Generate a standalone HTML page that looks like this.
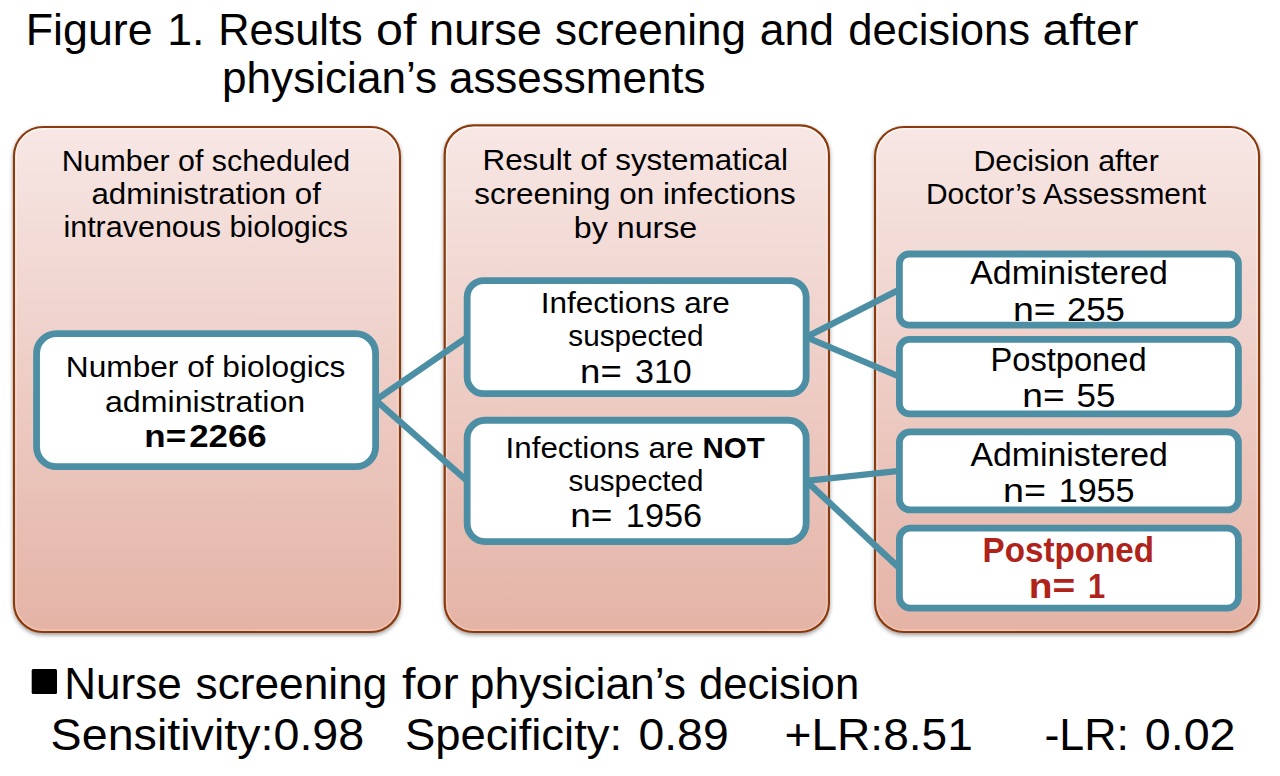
<!DOCTYPE html>
<html><head><meta charset="utf-8"><style>
html,body{margin:0;padding:0;background:#fff;width:1280px;height:776px;overflow:hidden}
svg{display:block;font-family:"Liberation Sans",sans-serif}
</style></head><body>
<svg width="1280" height="776" viewBox="0 0 1280 776">
<defs>
<linearGradient id="pg" x1="0" y1="0" x2="0" y2="1">
<stop offset="0" stop-color="#f7e7e5"/><stop offset="1" stop-color="#e4b3a6"/>
</linearGradient>
<linearGradient id="hl" x1="0" y1="0" x2="0" y2="1">
<stop offset="0" stop-color="#ffffff" stop-opacity="0.7"/><stop offset="1" stop-color="#f6c8bc" stop-opacity="0.9"/>
</linearGradient>
<filter id="sh" x="-5%" y="-5%" width="115%" height="115%">
<feGaussianBlur in="SourceAlpha" stdDeviation="2.3"/><feOffset dx="0" dy="2" result="o"/>
<feComponentTransfer><feFuncA type="linear" slope="0.4"/></feComponentTransfer>
<feMerge><feMergeNode/><feMergeNode in="SourceGraphic"/></feMerge>
</filter>
</defs>
<rect x="14.00" y="127.00" width="385.90" height="505.00" rx="29" ry="29" fill="url(#pg)" stroke="#8a3a0a" stroke-width="2.20" filter="url(#sh)"/><rect x="15.90" y="128.90" width="382.10" height="501.20" rx="27.1" ry="27.1" fill="none" stroke="url(#hl)" stroke-width="1.2"/><rect x="444.70" y="125.40" width="384.20" height="506.60" rx="29" ry="29" fill="url(#pg)" stroke="#8a3a0a" stroke-width="2.20" filter="url(#sh)"/><rect x="446.60" y="127.30" width="380.40" height="502.80" rx="27.1" ry="27.1" fill="none" stroke="url(#hl)" stroke-width="1.2"/><rect x="875.10" y="127.00" width="383.95" height="505.00" rx="29" ry="29" fill="url(#pg)" stroke="#8a3a0a" stroke-width="2.20" filter="url(#sh)"/><rect x="877.00" y="128.90" width="380.15" height="501.20" rx="27.1" ry="27.1" fill="none" stroke="url(#hl)" stroke-width="1.2"/>
<line x1="375.60" y1="400.17" x2="467.15" y2="337.12" stroke="#4c8fa5" stroke-width="6.4"/><line x1="375.60" y1="400.17" x2="467.15" y2="480.90" stroke="#4c8fa5" stroke-width="6.4"/><line x1="806.15" y1="337.12" x2="899.40" y2="289.55" stroke="#4c8fa5" stroke-width="6.4"/><line x1="806.15" y1="337.12" x2="899.40" y2="376.65" stroke="#4c8fa5" stroke-width="6.4"/><line x1="806.15" y1="480.90" x2="899.40" y2="470.90" stroke="#4c8fa5" stroke-width="6.4"/><line x1="806.15" y1="480.90" x2="899.40" y2="568.17" stroke="#4c8fa5" stroke-width="6.4"/>
<rect x="36.55" y="333.70" width="339.05" height="132.95" rx="19.90" ry="19.90" fill="#fff" stroke="#4c8fa5" stroke-width="6.80"/><rect x="467.15" y="280.55" width="339.00" height="113.15" rx="16.60" ry="16.60" fill="#fff" stroke="#4c8fa5" stroke-width="6.80"/><rect x="467.15" y="420.25" width="339.00" height="121.30" rx="17.95" ry="17.95" fill="#fff" stroke="#4c8fa5" stroke-width="6.80"/><rect x="899.40" y="254.00" width="339.00" height="71.10" rx="9.59" ry="9.59" fill="#fff" stroke="#4c8fa5" stroke-width="6.80"/><rect x="899.40" y="339.40" width="339.00" height="74.50" rx="10.15" ry="10.15" fill="#fff" stroke="#4c8fa5" stroke-width="6.80"/><rect x="899.40" y="431.85" width="339.00" height="78.10" rx="10.75" ry="10.75" fill="#fff" stroke="#4c8fa5" stroke-width="6.80"/><rect x="899.40" y="528.20" width="339.00" height="79.95" rx="11.06" ry="11.06" fill="#fff" stroke="#4c8fa5" stroke-width="6.80"/>
<rect x="31.7" y="669" width="25.3" height="25" rx="1.5" fill="#000"/>
<text transform="translate(25.77 44.80) scale(1.0067 1)" font-size="44.5" font-weight="normal" fill="#000" xml:space="preserve">Figure</text>
<text transform="translate(167.19 44.80) scale(1.0033 1)" font-size="44.5" font-weight="normal" fill="#000" xml:space="preserve">1.</text>
<text transform="translate(218.21 44.80) scale(0.9734 1)" font-size="44.5" font-weight="normal" fill="#000" xml:space="preserve">Results</text>
<text transform="translate(376.02 44.80) scale(1.0886 1)" font-size="44.5" font-weight="normal" fill="#000" xml:space="preserve">of</text>
<text transform="translate(429.06 44.80) scale(1.0142 1)" font-size="44.5" font-weight="normal" fill="#000" xml:space="preserve">nurse</text>
<text transform="translate(554.91 44.80) scale(0.9905 1)" font-size="44.5" font-weight="normal" fill="#000" xml:space="preserve">screening</text>
<text transform="translate(759.70 44.80) scale(1.0007 1)" font-size="44.5" font-weight="normal" fill="#000" xml:space="preserve">and</text>
<text transform="translate(848.34 44.80) scale(0.9805 1)" font-size="44.5" font-weight="normal" fill="#000" xml:space="preserve">decisions</text>
<text transform="translate(1042.54 44.80) scale(1.0782 1)" font-size="44.5" font-weight="normal" fill="#000" xml:space="preserve">after</text>
<text transform="translate(222.02 92.50) scale(0.9920 1)" font-size="44.5" font-weight="normal" fill="#000" xml:space="preserve">physician’s</text>
<text transform="translate(448.92 92.50) scale(0.9887 1)" font-size="44.5" font-weight="normal" fill="#000" xml:space="preserve">assessments</text>
<text transform="translate(61.68 170.90) scale(1.0364 1)" font-size="29.3" font-weight="normal" fill="#000" xml:space="preserve">Number of scheduled</text>
<text transform="translate(91.43 203.50) scale(1.0678 1)" font-size="29.3" font-weight="normal" fill="#000" xml:space="preserve">administration of</text>
<text transform="translate(63.42 236.50) scale(1.0406 1)" font-size="29.3" font-weight="normal" fill="#000" xml:space="preserve">intravenous biologics</text>
<text transform="translate(482.45 169.50) scale(1.0726 1)" font-size="29.3" font-weight="normal" fill="#000" xml:space="preserve">Result of systematical</text>
<text transform="translate(474.23 203.70) scale(1.0728 1)" font-size="29.3" font-weight="normal" fill="#000" xml:space="preserve">screening on infections</text>
<text transform="translate(573.80 238.30) scale(1.0991 1)" font-size="29.3" font-weight="normal" fill="#000" xml:space="preserve">by nurse</text>
<text transform="translate(973.43 170.90) scale(1.0353 1)" font-size="29.3" font-weight="normal" fill="#000" xml:space="preserve">Decision after</text>
<text transform="translate(925.96 203.50) scale(1.0221 1)" font-size="29.3" font-weight="normal" fill="#000" xml:space="preserve">Doctor’s Assessment</text>
<text transform="translate(65.84 376.80) scale(1.0801 1)" font-size="29.3" font-weight="normal" fill="#000" xml:space="preserve">Number of biologics</text>
<text transform="translate(104.90 411.50) scale(1.0986 1)" font-size="29.3" font-weight="normal" fill="#000" xml:space="preserve">administration</text>
<text transform="translate(144.33 447.00) scale(1.1353 1)" font-size="30.765" font-weight="bold" fill="#000" xml:space="preserve">n=</text>
<text transform="translate(189.17 447.00) scale(1.1318 1)" font-size="30.765" font-weight="bold" fill="#000" xml:space="preserve">2266</text>
<text transform="translate(540.78 313.00) scale(1.0741 1)" font-size="29.3" font-weight="normal" fill="#000" xml:space="preserve">Infections are</text>
<text transform="translate(568.29 346.10) scale(1.0130 1)" font-size="29.3" font-weight="normal" fill="#000" xml:space="preserve">suspected</text>
<text transform="translate(580.11 382.70) scale(1.0971 1)" font-size="33.3" font-weight="normal" fill="#000" xml:space="preserve">n=</text>
<text transform="translate(634.98 382.70) scale(1.0226 1)" font-size="33.3" font-weight="normal" fill="#000" xml:space="preserve">310</text>
<text transform="translate(505.54 457.80) scale(1.0701 1)" font-size="29.3" font-weight="normal" fill="#000" xml:space="preserve">Infections are</text>
<text transform="translate(702.49 457.80) scale(1.0067 1)" font-size="29.3" font-weight="bold" fill="#000" xml:space="preserve">NOT</text>
<text transform="translate(568.49 490.50) scale(1.0115 1)" font-size="29.3" font-weight="normal" fill="#000" xml:space="preserve">suspected</text>
<text transform="translate(570.17 527.30) scale(1.1143 1)" font-size="33.3" font-weight="normal" fill="#000" xml:space="preserve">n=</text>
<text transform="translate(625.84 527.30) scale(1.0282 1)" font-size="33.3" font-weight="normal" fill="#000" xml:space="preserve">1956</text>
<text transform="translate(970.20 284.00) scale(1.0177 1)" font-size="33.3" font-weight="normal" fill="#000" xml:space="preserve">Administered</text>
<text transform="translate(1012.95 320.60) scale(1.1257 1)" font-size="33.3" font-weight="normal" fill="#000" xml:space="preserve">n=</text>
<text transform="translate(1066.91 320.60) scale(1.0442 1)" font-size="33.3" font-weight="normal" fill="#000" xml:space="preserve">255</text>
<text transform="translate(990.56 370.80) scale(0.9799 1)" font-size="33.3" font-weight="normal" fill="#000" xml:space="preserve">Postponed</text>
<text transform="translate(1022.27 407.20) scale(1.1143 1)" font-size="33.3" font-weight="normal" fill="#000" xml:space="preserve">n=</text>
<text transform="translate(1076.51 407.20) scale(1.0471 1)" font-size="33.3" font-weight="normal" fill="#000" xml:space="preserve">55</text>
<text transform="translate(970.40 466.20) scale(1.0167 1)" font-size="33.3" font-weight="normal" fill="#000" xml:space="preserve">Administered</text>
<text transform="translate(1003.04 502.30) scale(1.1314 1)" font-size="33.3" font-weight="normal" fill="#000" xml:space="preserve">n=</text>
<text transform="translate(1058.65 502.30) scale(1.0254 1)" font-size="33.3" font-weight="normal" fill="#000" xml:space="preserve">1955</text>
<text transform="translate(982.58 562.30) scale(0.9589 1)" font-size="34.632" font-weight="bold" fill="#b0231b" xml:space="preserve">Postponed</text>
<text transform="translate(1028.85 598.40) scale(1.1237 1)" font-size="34.632" font-weight="bold" fill="#b0231b" xml:space="preserve">n=</text>
<text transform="translate(1088.01 598.40) scale(0.8941 1)" font-size="34.632" font-weight="bold" fill="#b0231b" xml:space="preserve">1</text>
<text transform="translate(64.24 698.70) scale(0.9903 1)" font-size="44.5" font-weight="normal" fill="#000" xml:space="preserve">Nurse</text>
<text transform="translate(195.51 698.70) scale(0.9947 1)" font-size="44.5" font-weight="normal" fill="#000" xml:space="preserve">screening</text>
<text transform="translate(401.91 698.70) scale(1.0920 1)" font-size="44.5" font-weight="normal" fill="#000" xml:space="preserve">for</text>
<text transform="translate(469.81 698.70) scale(0.9972 1)" font-size="44.5" font-weight="normal" fill="#000" xml:space="preserve">physician’s</text>
<text transform="translate(698.94 698.70) scale(0.9818 1)" font-size="44.5" font-weight="normal" fill="#000" xml:space="preserve">decision</text>
<text transform="translate(50.60 750.00) scale(1.0480 1)" font-size="44.5" font-weight="normal" fill="#000" xml:space="preserve">Sensitivity:0.98</text>
<text transform="translate(404.96 750.00) scale(1.0213 1)" font-size="44.5" font-weight="normal" fill="#000" xml:space="preserve">Specificity:</text>
<text transform="translate(638.42 750.00) scale(1.0422 1)" font-size="44.5" font-weight="normal" fill="#000" xml:space="preserve">0.89</text>
<text transform="translate(784.53 750.00) scale(1.0360 1)" font-size="44.5" font-weight="normal" fill="#000" xml:space="preserve">+LR:8.51</text>
<text transform="translate(1044.49 750.00) scale(1.0038 1)" font-size="44.5" font-weight="normal" fill="#000" xml:space="preserve">-LR:</text>
<text transform="translate(1144.80 750.00) scale(1.0476 1)" font-size="44.5" font-weight="normal" fill="#000" xml:space="preserve">0.02</text>
</svg>
</body></html>
